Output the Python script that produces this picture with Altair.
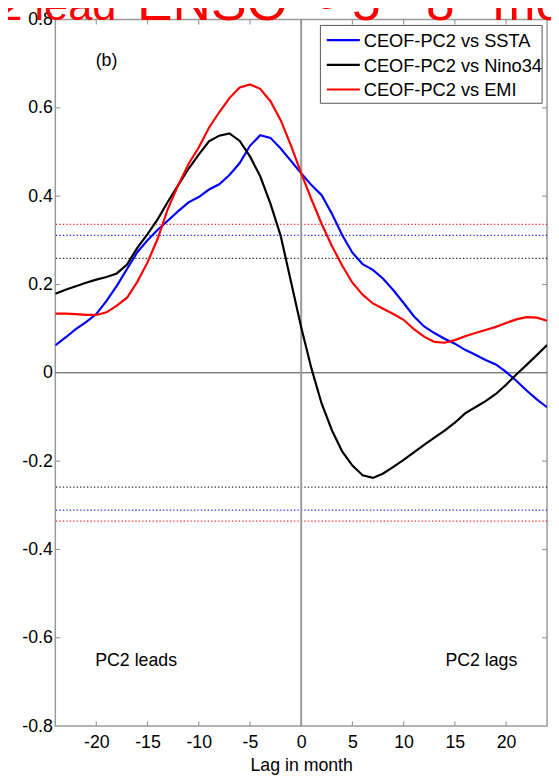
import altair as alt
import pandas as pd

# ---------------- data ----------------
lags = list(range(-24, 25))
ssta = [0.062, 0.080, 0.099, 0.115, 0.133, 0.163, 0.197, 0.235, 0.273, 0.300, 0.324, 0.345,
        0.366, 0.386, 0.398, 0.415, 0.427, 0.448, 0.475, 0.514, 0.538, 0.532, 0.508, 0.480,
        0.452,
        0.425, 0.402, 0.360, 0.312, 0.272, 0.246, 0.233, 0.213, 0.187, 0.158, 0.128, 0.105,
        0.090, 0.077, 0.066, 0.052, 0.041, 0.029, 0.019, 0.002, -0.018, -0.040, -0.060, -0.078]
nino34 = [0.179, 0.188, 0.196, 0.204, 0.211, 0.217, 0.225, 0.245, 0.283, 0.314, 0.348, 0.388,
          0.425, 0.462, 0.494, 0.524, 0.537, 0.542, 0.525, 0.490, 0.445, 0.383, 0.310, 0.207,
          0.103,
          0.010, -0.070, -0.130, -0.178, -0.210, -0.232, -0.238, -0.228, -0.213, -0.197, -0.180,
          -0.163, -0.147, -0.131, -0.113, -0.092, -0.078, -0.064, -0.048, -0.027, -0.004, 0.018,
          0.040, 0.063]
emi = [0.134, 0.134, 0.133, 0.131, 0.131, 0.137, 0.152, 0.170, 0.206, 0.250, 0.304, 0.372,
       0.425, 0.473, 0.510, 0.555, 0.590, 0.622, 0.646, 0.653, 0.643, 0.615, 0.572, 0.515,
       0.452,
       0.393, 0.337, 0.287, 0.243, 0.204, 0.177, 0.157, 0.145, 0.133, 0.120, 0.099, 0.082,
       0.070, 0.068, 0.074, 0.083, 0.090, 0.097, 0.104, 0.113, 0.121, 0.126, 0.125, 0.118]

series_names = ["CEOF-PC2 vs SSTA", "CEOF-PC2 vs Nino34", "CEOF-PC2 vs EMI"]
series_values = [ssta, nino34, emi]
series_colors = ["#0000ff", "#000000", "#ff0000"]

sig_levels = [0.336, 0.311, 0.259]          # EMI, SSTA, Nino34 significance
sig_colors = ["#ff0000", "#0000ff", "#000000"]

x_ticks = [-20, -15, -10, -5, 0, 5, 10, 15, 20]
y_ticks = [-0.8, -0.6, -0.4, -0.2, 0, 0.2, 0.4, 0.6, 0.8]
inner_y_ticks = [-0.6, -0.4, -0.2, 0.2, 0.4, 0.6]

# red title (cut off at the top of the figure), split into word groups
title_parts = ["PC2 lead", "ENSO", "~", "5 - 8", "months"]
panel_label = "(b)"
lead_text = "PC2 leads"
lag_text = "PC2 lags"

# ---------------- layout ----------------
W, H = 499, 717
FONT = "Liberation Sans"
GRAY = "#9a9a9a"

xs = alt.Scale(domain=[-24, 24], nice=False, zero=False)
ys = alt.Scale(domain=[-0.8, 0.8], nice=False, zero=False)

x_axis = alt.Axis(values=x_ticks, ticks=False, domain=False, grid=False,
                  labelExpr="datum.value < 0 ? '-' + format(-datum.value, 'd') : format(datum.value, 'd')",
                  labelFontSize=18, labelFont=FONT, labelPadding=8, labelColor="#000",
                  title="Lag in month", titleFontSize=18, titleFont=FONT,
                  titleFontWeight="normal", titlePadding=5, titleColor="#000")
y_axis = alt.Axis(values=y_ticks, ticks=False, domain=False, grid=False,
                  labelExpr="datum.value == 0 ? '0' : (datum.value < 0 ? '-' + format(-datum.value, '.1f') : format(datum.value, '.1f'))",
                  labelFontSize=18, labelFont=FONT, labelPadding=3, labelColor="#000",
                  title=None)

layers = []

# significance dotted lines
sig_rows = []
for lvl, col in zip(sig_levels, sig_colors):
    sig_rows.append({"v": lvl, "c": col})
    sig_rows.append({"v": -lvl, "c": col})
for r in sig_rows:
    layers.append(
        alt.Chart(pd.DataFrame([r])).mark_rule(strokeDash=[1.3, 2.2], strokeWidth=1.2, color=r["c"],
                                               opacity=0.85)
        .encode(y=alt.Y("v:Q", scale=ys, axis=y_axis))
    )

# zero lines
layers.append(alt.Chart(pd.DataFrame({"v": [0]})).mark_rule(color="#444", strokeWidth=1)
              .encode(y=alt.Y("v:Q", scale=ys)))
layers.append(alt.Chart(pd.DataFrame({"v": [0]})).mark_rule(color=GRAY, strokeWidth=2)
              .encode(x=alt.X("v:Q", scale=xs, axis=x_axis)))

# ticks (inward, all four sides)
xt = pd.DataFrame({"t": x_ticks})
yt = pd.DataFrame({"t": inner_y_ticks})
layers.append(alt.Chart(xt).mark_rule(color=GRAY, strokeWidth=1.2)
              .encode(x=alt.X("t:Q", scale=xs), y=alt.value(H), y2=alt.value(H - 5)))
layers.append(alt.Chart(xt).mark_rule(color=GRAY, strokeWidth=1.2)
              .encode(x=alt.X("t:Q", scale=xs), y=alt.value(0), y2=alt.value(5)))
layers.append(alt.Chart(yt).mark_rule(color=GRAY, strokeWidth=1.2)
              .encode(y=alt.Y("t:Q", scale=ys), x=alt.value(0), x2=alt.value(5)))
layers.append(alt.Chart(yt).mark_rule(color=GRAY, strokeWidth=1.2)
              .encode(y=alt.Y("t:Q", scale=ys), x=alt.value(W), x2=alt.value(W - 5)))

# curves
for name, vals, col in zip(series_names, series_values, series_colors):
    df = pd.DataFrame({"lag": lags, "r": vals, "series": name})
    layers.append(
        alt.Chart(df).mark_line(color=col, strokeWidth=2.2, clip=True)
        .encode(x=alt.X("lag:Q", scale=xs), y=alt.Y("r:Q", scale=ys))
    )

# annotations
ann = pd.DataFrame({
    "x": [-19.0, -20.1, 21.1],
    "y": [0.705, -0.652, -0.652],
    "t": [panel_label, lead_text, lag_text],
    "a": ["center", "left", "right"],
})
for _, row in ann.iterrows():
    layers.append(
        alt.Chart(pd.DataFrame([row])).mark_text(font=FONT, fontSize=18, align=row["a"],
                                                 baseline="middle", color="#000")
        .encode(x=alt.X("x:Q", scale=xs), y=alt.Y("y:Q", scale=ys), text="t:N")
    )

# legend (manual, boxed)
layers.append(
    alt.Chart(pd.DataFrame({"k": [0]})).mark_rect(fill="white", stroke="#555", strokeWidth=1)
    .encode(x=alt.value(269), x2=alt.value(494), y=alt.value(6), y2=alt.value(85))
)
row_y = [21, 46, 71]
for name, col, ry in zip(series_names, series_colors, row_y):
    d = pd.DataFrame({"name": [name]})
    layers.append(alt.Chart(d).mark_rule(color=col, strokeWidth=2.2)
                  .encode(x=alt.value(275.5), x2=alt.value(309), y=alt.value(ry)))
    layers.append(alt.Chart(d).mark_text(font=FONT, fontSize=18.5, align="left",
                                         baseline="middle", color="#000")
                  .encode(x=alt.value(313), y=alt.value(ry + 1), text="name:N"))

# clipped red title, word groups placed as in the reference
title_x = [62, 83, 254, 301, 444]
title_y = [0, 0, 4, 0, 0]
title_size = [44, 54, 52, 52, 52]
title_align = ["right", "left", "left", "left", "left"]
for part, tx, ty, tsz, ta in zip(title_parts, title_x, title_y, title_size, title_align):
    layers.append(
        alt.Chart(pd.DataFrame({"t": [part]})).mark_text(font=FONT, fontSize=tsz, align=ta,
                                                         baseline="alphabetic", color="#ff0000")
        .encode(x=alt.value(tx), y=alt.value(ty), text="t:N")
    )

chart = alt.layer(*layers).properties(
    width=W, height=H,
    autosize=alt.AutoSizeParams(type="none"),
    padding={"left": 48, "top": 6, "right": 4, "bottom": 48},
    background="white",
).configure_view(stroke=GRAY, strokeWidth=1.5)

chart.save("out.html", embed_options={"renderer": "svg", "actions": False})
